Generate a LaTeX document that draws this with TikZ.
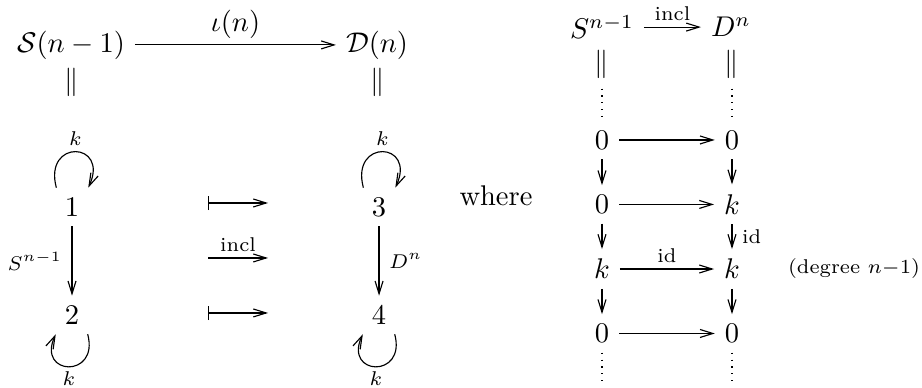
\documentclass[tikz,border=0pt]{standalone}
\usepackage{amsmath}
\usetikzlibrary{arrows.meta}

\begin{document}
\begin{tikzpicture}[>={Straight Barb[length=4.5pt, width=2.8pt]},
  lbl/.style={font=\scriptsize, inner sep=2pt},
  eqsign/.style={inner sep=0pt}]
\useasboundingbox (0,0) rectangle (11.369,4.784);

% the map S(n-1) -> D(n) and its quivers
\node (Sn) at (0.876,4.230) {$\mathcal{S}(n-1)$};
\node (Dn) at (4.649,4.230) {$\mathcal{D}(n)$};
\node[eqsign] (eqS) at (0.888,3.773) {$\|$};
\node[eqsign] (eqD) at (4.661,3.773) {$\|$};
\node (one) at (0.888,2.232) {$1$};
\node (two) at (0.888,0.900) {$2$};
\node (three) at (4.674,2.232) {$3$};
\node (four) at (4.674,0.900) {$4$};
\coordinate (mapA) at (2.565,2.281);
\coordinate (mapB) at (3.305,2.281);
\coordinate (inclA) at (2.565,1.603);
\coordinate (inclB) at (3.305,1.603);
\coordinate (mapC) at (2.565,0.925);
\coordinate (mapD) at (3.305,0.925);
\node (where) at (6.116,2.368) {where};

\draw[->] (Sn) -- node[above, inner sep=2pt] {$\iota(n)$} (Dn);
\draw[->] (one) -- node[left, font=\scriptsize] {$S^{n-1}$} (two);
\draw[->] (three) -- node[right, font=\scriptsize] {$D^n$} (four);
\draw[->] ([xshift=-5.5pt]one.north) to[out=105, in=65, looseness=4.1] node[lbl, above] {$k$} ([xshift=5.7pt]one.north);
\draw[->] ([xshift=5.5pt]two.south) to[out=-75, in=-115, looseness=3.7] node[font=\scriptsize, inner sep=0pt, below=1.5pt] {$k$} ([xshift=-5.7pt]two.south);
\draw[->] ([xshift=-5.5pt]three.north) to[out=105, in=65, looseness=4.1] node[lbl, above] {$k$} ([xshift=5.7pt]three.north);
\draw[->] ([xshift=5.5pt]four.south) to[out=-75, in=-115, looseness=3.7] node[font=\scriptsize, inner sep=0pt, below=1.5pt] {$k$} ([xshift=-5.7pt]four.south);
\draw[{Bar[width=5pt]}->] (mapA) -- (mapB);
\draw[->] (inclA) -- node[lbl, above] {incl} (inclB);
\draw[{Bar[width=5pt]}->] (mapC) -- (mapD);

% the chain complexes
\node (SR) at (7.423,4.450) {$S^{n-1}$};
\node (DR) at (9.014,4.450) {$D^n$};
\node[eqsign] (eqSR) at (7.423,3.990) {$\|$};
\node[eqsign] (eqDR) at (9.026,3.990) {$\|$};
\node (a1) at (7.423,3.058) {$0$};
\node (b1) at (9.026,3.058) {$0$};
\node (a2) at (7.423,2.263) {$0$};
\node (b2) at (9.026,2.263) {$k$};
\node (a3) at (7.423,1.467) {$k$};
\node (b3) at (9.026,1.467) {$k$};
\node (a4) at (7.423,0.672) {$0$};
\node (b4) at (9.026,0.672) {$0$};
\coordinate (endA) at (7.423,0.074);
\coordinate (endB) at (9.026,0.074);
\node (deg) at (10.531,1.467) {\scriptsize (degree $n{-}1$)};

\draw[->] (SR.east) -- node[lbl, above] {incl} (SR.east -| DR.west);
\draw[dotted, shorten <=3.3pt] (eqSR) -- (a1);
\draw[dotted, shorten <=3.3pt] (eqDR) -- (b1);
\draw[->] (a1) -- (b1);
\draw[->] (a2) -- (b2);
\draw[->] (a3) -- node[lbl, above] {id} (b3);
\draw[->] (a4) -- (b4);
\draw[->] (a1) -- (a2);
\draw[->] (a2) -- (a3);
\draw[->] (a3) -- (a4);
\draw[->] (b1) -- (b2);
\draw[->] (b2) -- node[right, font=\scriptsize] {id} (b3);
\draw[->] (b3) -- (b4);
\draw[dotted] (a4) -- (endA);
\draw[dotted] (b4) -- (endB);

\end{tikzpicture}
\end{document}
